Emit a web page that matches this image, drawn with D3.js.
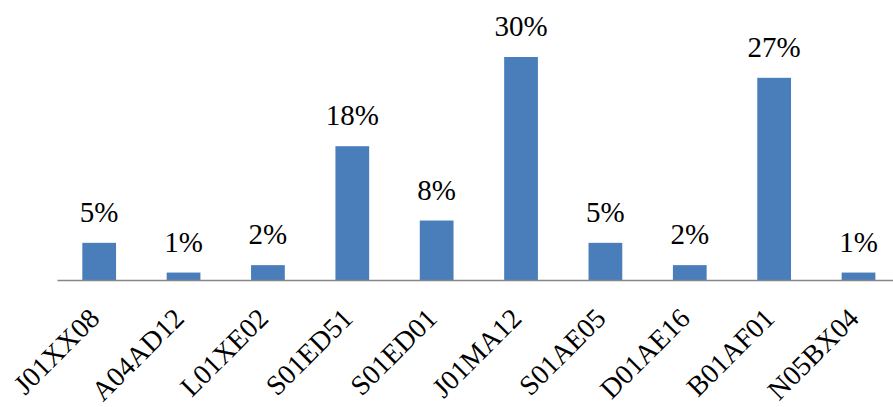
<!DOCTYPE html>
<html>
<head>
<meta charset="utf-8">
<script src="https://cdn.jsdelivr.net/npm/d3@7"></script>
<style>
  body { margin: 0; background: #fff; }
</style>
</head>
<body>
<svg id="chart" width="893" height="407"></svg>
<script>
// chart data
var codes = ['J01XX08', 'A04AD12', 'L01XE02', 'S01ED51', 'S01ED01',
             'J01MA12', 'S01AE05', 'D01AE16', 'B01AF01', 'N05BX04'];
var shares = [5, 1, 2, 18, 8, 30, 5, 2, 27.2, 1];
var shareLabels = ['5%', '1%', '2%', '18%', '8%', '30%', '5%', '2%', '27%', '1%'];

var serif = 'Times New Roman';
var svg = d3.select('#chart');
var baseY = 280;

// scales
var x = d3.scaleBand()
  .domain(codes)
  .range([57, 900.7])
  .paddingInner(0.6)
  .paddingOuter(0.3);

var y = d3.scaleLinear()
  .domain([0, 30])
  .range([baseY, 57]);

// bars
svg.selectAll('rect.bar')
  .data(codes)
  .enter().append('rect')
  .attr('class', 'bar')
  .attr('x', function(d) { return x(d); })
  .attr('y', function(d, i) { return y(shares[i]); })
  .attr('width', x.bandwidth())
  .attr('height', function(d, i) { return baseY - y(shares[i]); })
  .attr('fill', '#4a7ebb');

// value labels above bars
svg.selectAll('text.val')
  .data(codes)
  .enter().append('text')
  .attr('class', 'val')
  .attr('x', function(d) { return x(d) + x.bandwidth() / 2; })
  .attr('y', function(d, i) { return y(shares[i]) - 21; })
  .attr('text-anchor', 'middle')
  .attr('font-family', serif)
  .attr('font-size', 29)
  .attr('fill', '#000')
  .text(function(d, i) { return shareLabels[i]; });

// x axis
var xAxis = d3.axisBottom(x).tickSize(0).tickPadding(0);
var gx = svg.append('g')
  .attr('transform', 'translate(0,' + baseY + ')')
  .call(xAxis)
  .attr('font-family', serif);

gx.select('.domain')
  .attr('stroke', '#868686')
  .attr('stroke-width', 1.5);

gx.selectAll('.tick text')
  .attr('font-family', serif)
  .attr('font-size', 28)
  .attr('fill', '#000')
  .attr('text-anchor', 'end')
  .attr('dy', 0)
  .attr('y', 0)
  .attr('transform', 'translate(2,40) rotate(-45)');
</script>
</body>
</html>
